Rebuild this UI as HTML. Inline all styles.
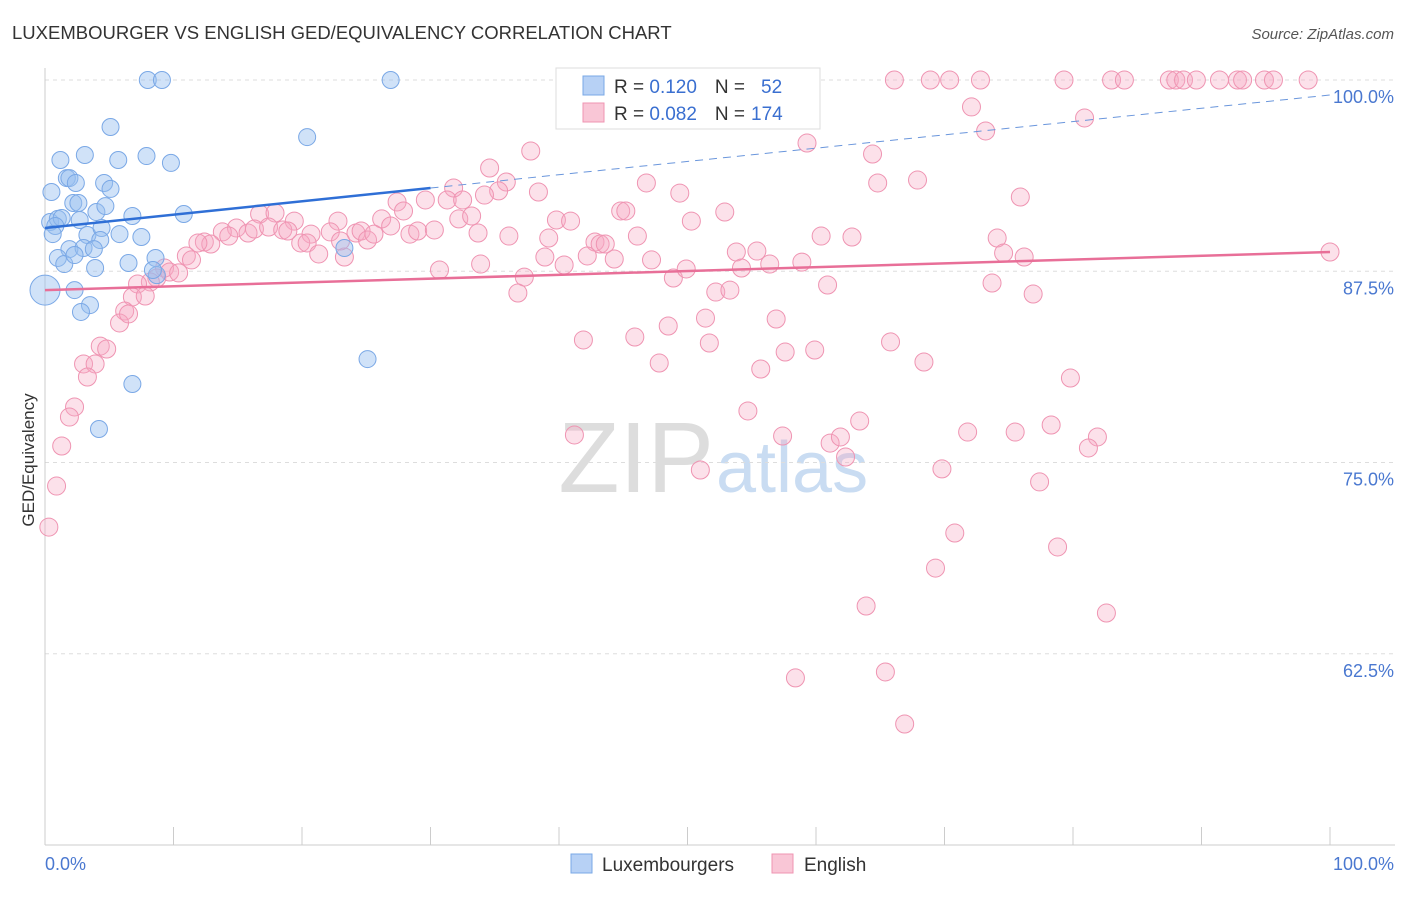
<!DOCTYPE html>
<html><head><meta charset="utf-8"><style>
body{margin:0;background:#fff;font-family:"Liberation Sans",sans-serif}
svg text{font-family:"Liberation Sans",sans-serif}
</style></head><body>
<svg width="1406" height="892" id="c">
<text x="12" y="39" font-size="18.5" fill="#333">LUXEMBOURGER VS ENGLISH GED/EQUIVALENCY CORRELATION CHART</text>
<text x="1394" y="39" font-size="15" fill="#555" text-anchor="end" font-style="italic">Source: ZipAtlas.com</text>
<text x="34" y="460" font-size="17" fill="#333" text-anchor="middle" transform="rotate(-90 34 460)">GED/Equivalency</text>
<text x="714" y="492" font-size="100" fill="#ddd" text-anchor="end" font-family="Liberation Serif">ZIP</text>
<text x="716" y="492" font-size="72" fill="#c9dcf2">atlas</text>
<g id="grid"></g><g id="pts"></g><g id="trend"></g>
<g>
<rect x="556" y="68" width="264" height="61" fill="#fff" stroke="#ddd"/>
<rect x="583" y="76" width="21" height="19" fill="#b7d1f5" stroke="#7aa8e6"/>
<text x="614" y="93" font-size="19" fill="#333">R = <tspan fill="#3a6fd0">0.120</tspan><tspan dx="18">N =</tspan><tspan fill="#3a6fd0" dx="16">52</tspan></text>
<rect x="583" y="103" width="21" height="19" fill="#f9c6d6" stroke="#ef94b2"/>
<text x="614" y="120" font-size="19" fill="#333">R = <tspan fill="#3a6fd0">0.082</tspan><tspan dx="18">N =</tspan><tspan fill="#3a6fd0" dx="6">174</tspan></text>
</g>
<g>
<rect x="571" y="854" width="21" height="19" fill="#b7d1f5" stroke="#7aa8e6"/>
<text x="602" y="871" font-size="19" fill="#333">Luxembourgers</text>
<rect x="772" y="854" width="21" height="19" fill="#f9c6d6" stroke="#ef94b2"/>
<text x="804" y="871" font-size="19" fill="#333">English</text>
</g>
<text x="45" y="870" font-size="18" fill="#4a78d0">0.0%</text>
<text x="1394" y="870" font-size="18" fill="#4a78d0" text-anchor="end">100.0%</text>
</svg>
<script>
const yTicks=[100,87.5,75,62.5];
const yTickLabels=["100.0%","87.5%","75.0%","62.5%"];
const xTicks=[0,10,20,30,40,50,60,70,80,90,100];
const bluePx=[[148,80],[162,80],[391,80],[110,127],[307,137],[60,160],[85,155],[118,160],[147,156],[171,163],[67,178],[70,178],[76,183],[104,183],[110,189],[52,192],[73,203],[78,203],[97,212],[106,206],[184,214],[132,216],[50,222],[58,219],[62,218],[80,220],[55,226],[53,234],[88,235],[101,228],[120,234],[142,237],[100,240],[70,249],[84,248],[94,249],[58,258],[64,264],[128,263],[155,258],[95,268],[157,275],[74,290],[90,305],[81,312],[367,359],[133,384],[99,429],[344,248],[153,270],[75,255]];
const pinkPx=[[895,80],[930,80],[950,80],[981,80],[1064,80],[1111,80],[1124,80],[1170,80],[1176,80],[1183,80],[1196,80],[1219,80],[1237,80],[1242,80],[1264,80],[1273,80],[1308,80],[972,107],[1084,118],[985,131],[807,143],[873,154],[531,151],[490,168],[878,183],[918,180],[646,183],[680,193],[539,192],[1020,197],[453,188],[506,182],[498,191],[484,195],[426,200],[447,200],[463,200],[397,202],[459,219],[472,216],[403,211],[260,214],[275,213],[294,221],[338,221],[382,219],[391,226],[557,220],[570,221],[621,211],[626,211],[691,221],[725,212],[237,228],[222,232],[229,236],[248,233],[255,229],[268,227],[283,230],[288,231],[311,234],[330,232],[356,233],[361,231],[368,240],[374,234],[410,234],[418,231],[434,230],[478,233],[509,236],[549,238],[638,236],[595,242],[600,244],[605,244],[821,236],[852,237],[997,238],[204,242],[211,244],[198,243],[186,256],[191,260],[301,243],[307,243],[319,254],[344,257],[341,241],[545,257],[587,256],[614,259],[652,260],[736,252],[757,251],[770,264],[742,268],[802,262],[1004,253],[1024,257],[1330,252],[440,270],[480,264],[524,277],[564,265],[674,278],[686,269],[165,268],[170,272],[178,273],[157,278],[150,282],[138,284],[132,297],[145,296],[125,311],[120,323],[128,314],[100,346],[107,349],[83,364],[95,364],[88,377],[518,293],[716,292],[730,290],[827,285],[992,283],[1033,294],[668,326],[705,318],[776,319],[584,340],[635,337],[709,343],[785,352],[815,350],[890,342],[659,363],[761,369],[924,362],[1071,378],[74,407],[70,417],[62,446],[56,486],[49,527],[748,411],[575,435],[783,436],[830,443],[840,437],[860,421],[845,457],[967,432],[1015,432],[1051,425],[1097,437],[1089,448],[700,470],[942,469],[1039,482],[955,533],[1057,547],[935,568],[866,606],[1106,613],[795,678],[885,672],[905,724]];
const toX=p=>+((p-45)/12.85).toFixed(1), toY=p=>+(100-(p-80)/15.3).toFixed(2);
const blueX=bluePx.map(p=>toX(p[0])), blueY=bluePx.map(p=>toY(p[1]));
const pinkX=pinkPx.map(p=>toX(p[0])), pinkY=pinkPx.map(p=>toY(p[1]));
const blueTrend=[0,90.33,30,92.94,100,99.02];
const pinkTrend=[0,86.27,100,88.76];
const X=v=>45+v*12.85, Y=v=>80+(100-v)*15.3;
const NS="http://www.w3.org/2000/svg";
function mk(t,a,parent){const e=document.createElementNS(NS,t);for(const k in a)e.setAttribute(k,a[k]);document.getElementById(parent).appendChild(e);return e;}
yTicks.forEach((v,i)=>{
 const l=mk('line',{x1:45,x2:1395,y1:Y(v),y2:Y(v),stroke:'#ddd','stroke-dasharray':'4,4'},'grid');
 
 
 const t=mk('text',{x:1394,y:Y(v)+23,'font-size':18,fill:'#4a78d0','text-anchor':'end'},'grid');
 t.textContent=yTickLabels[i];
 
 
});
const ax=mk('line',{x1:45,x2:45,y1:68,y2:845,stroke:'#ccc'},'grid');


const bx=mk('line',{x1:45,x2:1395,y1:845,y2:845,stroke:'#ccc'},'grid');


xTicks.forEach(v=>{
 const t=mk('line',{x1:X(v),x2:X(v),y1:827,y2:845,stroke:'#ccc'},'grid');
 
 
});
pinkX.forEach((x,i)=>{
 const c=mk('circle',{cx:X(x),cy:Y(pinkY[i]),r:9,fill:'rgba(246,170,196,0.35)',stroke:'#ef94b2','stroke-width':1},'pts');
 
 
});
blueX.forEach((x,i)=>{
 const c=mk('circle',{cx:X(x),cy:Y(blueY[i]),r:8.5,fill:'rgba(150,190,240,0.45)',stroke:'#7aa8e6','stroke-width':1},'pts');
 
 
});
const big=mk('circle',{cx:X(0),cy:Y(toY(290)),r:15,fill:'rgba(150,190,240,0.45)',stroke:'#7aa8e6'},'pts');


const b1=mk('line',{x1:X(blueTrend[0]),y1:Y(blueTrend[1]),x2:X(blueTrend[2]),y2:Y(blueTrend[3]),stroke:'#2f6fd6','stroke-width':2.5},'trend');


const b2=mk('line',{x1:X(blueTrend[2]),y1:Y(blueTrend[3]),x2:X(blueTrend[4]),y2:Y(blueTrend[5]),stroke:'#6a96dc','stroke-width':1,'stroke-dasharray':'8,6'},'trend');


const p1=mk('line',{x1:X(pinkTrend[0]),y1:Y(pinkTrend[1]),x2:X(pinkTrend[2]),y2:Y(pinkTrend[3]),stroke:'#e86f98','stroke-width':2.5},'trend');


</script>
</body></html>
